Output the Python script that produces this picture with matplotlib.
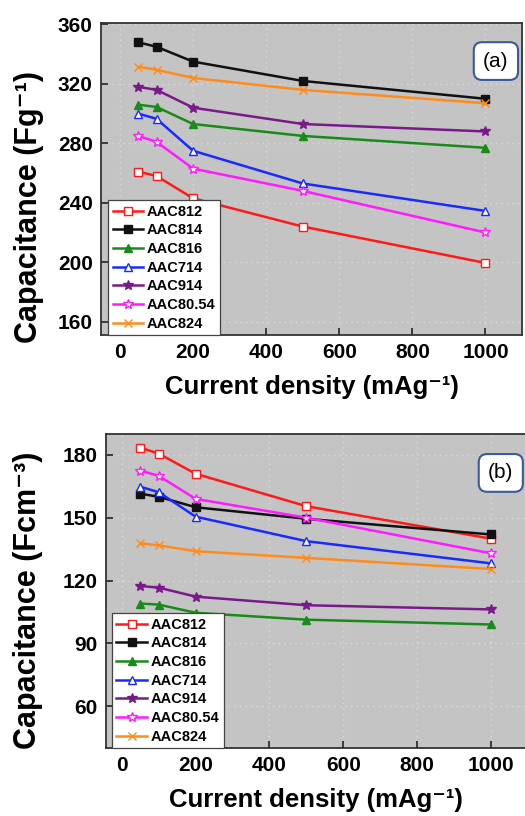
import matplotlib
matplotlib.use("Agg")
import matplotlib.pyplot as plt

plt.rcParams['font.family'] = ['Liberation Sans', 'DejaVu Sans']

current = [50, 100, 200, 500, 1000]
names = ["AAC812", "AAC814", "AAC816", "AAC714", "AAC914", "AAC80.54", "AAC824"]

grav = {
    "AAC812": [261, 258, 243, 224, 199.5],
    "AAC814": [348, 345, 335, 322, 310],
    "AAC816": [306, 304.5, 293, 285, 277],
    "AAC714": [300, 296.5, 275, 253, 234.5],
    "AAC914": [318, 316, 304, 293, 288],
    "AAC80.54": [285, 281, 263, 248, 220],
    "AAC824": [331.5, 329.5, 324, 316, 307],
}
vol = {
    "AAC812": [183.5, 180.6, 171, 155.5, 140],
    "AAC814": [161.5, 160, 155, 149.5, 142],
    "AAC816": [109, 108.5, 104.6, 101.3, 99],
    "AAC714": [164.8, 162.2, 150.5, 138.8, 128.2],
    "AAC914": [117.4, 116.6, 112.3, 108.2, 106.2],
    "AAC80.54": [172.5, 170, 159, 150, 133],
    "AAC824": [137.8, 136.8, 134, 130.8, 125.5],
}
yticks_a = [160, 200, 240, 280, 320, 360]
yticks_b = [60, 90, 120, 150, 180]
xticks = [0, 200, 400, 600, 800, 1000]

styles = {
    "AAC812": dict(color="#ff1a1a", marker="s", mfc="white"),
    "AAC814": dict(color="#111111", marker="s", mfc="#111111"),
    "AAC816": dict(color="#1a8a1a", marker="^", mfc="#1a8a1a"),
    "AAC714": dict(color="#1a2aff", marker="^", mfc="white"),
    "AAC914": dict(color="#7a1a8a", marker="*", mfc="#7a1a8a"),
    "AAC80.54": dict(color="#ff1aff", marker="*", mfc="white"),
    "AAC824": dict(color="#ff8c1a", marker="x", mfc="none"),
}

fig = plt.figure(figsize=(5.25, 8.16), dpi=100)
fig.patch.set_facecolor("white")

W, H = 525, 816
def add_ax(l, t, r, b):
    return fig.add_axes([l / W, 1 - b / H, (r - l) / W, (b - t) / H])

ax1 = add_ax(101, 23, 522, 335)
ax2 = add_ax(106, 434, 526, 748)

SUP = "\u207b\u00b9"
SUP3 = "\u207b\u00b3"

def style_ax(ax, data, yt, ylim, xlim, ylabel, tag, leg_x, tag_xy):
    ax.set_facecolor("#c4c4c4")
    for n in names:
        st = styles[n]
        ax.plot(current, data[n], color=st["color"], lw=1.8, marker=st["marker"],
                ms=5.5 if st["marker"] != "*" else 7.5, mfc=st["mfc"], mec=st["color"],
                mew=1.0, label=n, zorder=3)
    ax.set_xlim(*xlim)
    ax.set_ylim(*ylim)
    ax.set_xticks(xticks)
    ax.set_yticks(yt)
    ax.grid(True, color="#dadada", ls=(0, (1, 3)), lw=1.0)
    ax.set_axisbelow(True)
    ax.tick_params(direction="in", length=5, width=1.2, labelsize=15, pad=6,
                   colors="#222222", labelcolor="black")
    for lab in ax.get_xticklabels() + ax.get_yticklabels():
        lab.set_fontweight("bold")
    for s in ax.spines.values():
        s.set_color("#333333")
        s.set_linewidth(1.3)
    ax.set_xlabel("Current density (mAg" + SUP + ")", fontsize=18.5, fontweight="bold", labelpad=9)
    ax.set_ylabel(ylabel, fontsize=22, fontweight="bold")
    leg = ax.legend(loc="lower left", bbox_to_anchor=(leg_x, 0.0), borderaxespad=0,
                    fancybox=False, edgecolor="#444444", framealpha=1, numpoints=1,
                    prop=dict(size=10.5, weight="bold"), handlelength=2.1,
                    handletextpad=0.25, labelspacing=0.32, borderpad=0.3)
    leg.get_frame().set_linewidth(0.9)
    ax.text(tag_xy[0], tag_xy[1], tag, transform=ax.transAxes, fontsize=15, ha="center", va="center",
            bbox=dict(boxstyle="round,pad=0.45,rounding_size=0.4", fc="white", ec="#3a5a9a", lw=1.5))

style_ax(ax1, grav, yticks_a, (151, 361), (-52, 1100),
         "Capacitance (Fg" + SUP + ")", "(a)", 0.017, (0.938, 0.878))
style_ax(ax2, vol, yticks_b, (40, 190), (-43, 1095),
         "Capacitance (Fcm" + SUP3 + ")", "(b)", 0.014, (0.94, 0.876))

ax1.yaxis.set_label_coords(-0.135, 0.41)
ax2.yaxis.set_label_coords(-0.15, 0.47)

fig.savefig("out.png", dpi=100)
